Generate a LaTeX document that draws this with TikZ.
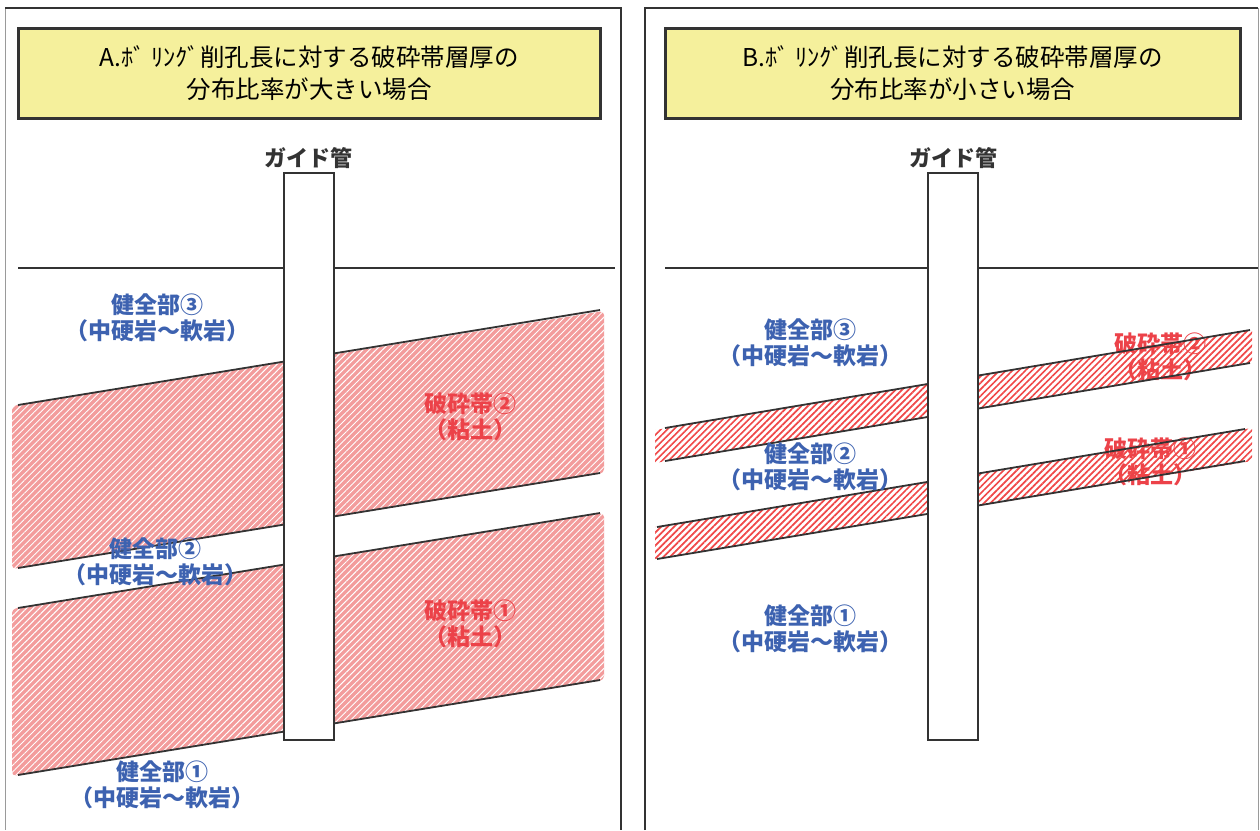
\documentclass[tikz,border=0pt]{standalone}
\usepackage{fontspec}
\setmainfont{Noto Sans CJK JP}
\usetikzlibrary{patterns.meta}

\definecolor{framegray}{HTML}{333333}
\definecolor{edgegray}{HTML}{9A9A9A}
\definecolor{titlefill}{HTML}{F5F09C}
\definecolor{rockblue}{HTML}{3D62B0}
\definecolor{clayred}{HTML}{EC4249}
\definecolor{claypink}{HTML}{F39C9C}
\definecolor{hatchred}{HTML}{F04848}

\tikzset{
  panel/.style={draw=framegray, line width=2.6pt},
  paneledge/.style={draw=edgegray, line width=1pt},
  titlebox/.style={draw=framegray, line width=3pt, fill=titlefill, align=center,
    font=\fontsize{24.5}{32}\selectfont, inner sep=0pt},
  pipe/.style={draw=framegray, line width=2pt, fill=white},
  ground/.style={draw=framegray, line width=2pt},
  seam/.style={draw=framegray, line width=1.8pt},
  pipelabel/.style={font=\bfseries\fontsize{22}{24}\selectfont, text=framegray},
  rocklabel/.style={align=center, text=rockblue, font=\bfseries\fontsize{23}{26}\selectfont},
  claylabel/.style={align=center, text=clayred, font=\bfseries\fontsize{23}{26}\selectfont},
  wideband/.style={fill=claypink, rounded corners=4pt},
  widehatch/.style={pattern={Lines[angle=45,distance=4.6pt,line width=0.95pt]}, pattern color=white},
  thinband/.style={pattern={Lines[angle=45,distance=4.6pt,line width=1.7pt]}, pattern color=hatchred}
}

\begin{document}
\begin{tikzpicture}[x=1pt,y=-1pt]
\useasboundingbox (0,0) rectangle (1260,830);

% ---------------- panel A: thick fractured zones ----------------
\draw[paneledge] (5,8) -- (5,830);
\draw[panel] (5,8) -- (621,8) -- (621,830);
\node[titlebox, minimum width=582pt, minimum height=90pt] (titleA) at (309,73)
  {A.ﾎﾞ\ ﾘﾝｸﾞ削孔長に対する破砕帯層厚の\\分布比率が大きい場合};

% fractured zone 2 (upper) and 1 (lower)
\path[wideband]  (12,406) -- (604,311) -- (604,473) -- (12,569) -- cycle;
\path[widehatch] (12,406) -- (604,311) -- (604,473) -- (12,569) -- cycle;
\path[wideband]  (12,609) -- (604,513) -- (604,680) -- (12,776) -- cycle;
\path[widehatch] (12,609) -- (604,513) -- (604,680) -- (12,776) -- cycle;

% zone boundaries
\draw[seam] (18,405) -- (600,310);
\draw[seam] (18,568) -- (600,473);
\draw[seam] (18,608) -- (600,513);
\draw[seam] (18,775) -- (600,680);

% ground surface and guide pipe
\draw[ground] (18,268) -- (615,268);
\draw[pipe] (284,173) rectangle (334,740);
\node[pipelabel] (pipeA) at (308,158) {ガイド管};

\node[rocklabel] (a3) at (157,318) {健全部③\\（中硬岩～軟岩）};
\node[rocklabel] (a2) at (155,562) {健全部②\\（中硬岩～軟岩）};
\node[rocklabel] (a1) at (162,785) {健全部①\\（中硬岩～軟岩）};
\node[claylabel] (fa2) at (470,417) {破砕帯②\\（粘土）};
\node[claylabel] (fa1) at (470,624) {破砕帯①\\（粘土）};

% ---------------- panel B: thin fractured zones ----------------
\draw[paneledge] (1258,8) -- (1258,830);
\draw[panel] (645,830) -- (645,8) -- (1258,8);
\node[titlebox, minimum width=575pt, minimum height=90pt] (titleB) at (952.5,73)
  {B.ﾎﾞ\ ﾘﾝｸﾞ削孔長に対する破砕帯層厚の\\分布比率が小さい場合};

% clay labels sit beneath the hatching
\node[claylabel] (fb2) at (1160,357) {破砕帯②\\（粘土）};
\node[claylabel] (fb1) at (1150,462) {破砕帯①\\（粘土）};

\path[thinband] (655,430) -- (1252,330) -- (1252,363) -- (655,463) -- cycle;
\path[thinband] (655,527) -- (1252,428) -- (1252,461) -- (655,559) -- cycle;

\draw[seam] (665,428) -- (1250,330);
\draw[seam] (665,461) -- (1250,363);
\draw[seam] (657,527) -- (1245,429);
\draw[seam] (657,559) -- (1245,461);

\draw[ground] (665,268) -- (1258,268);
\draw[pipe] (928,173) rectangle (978,740);
\node[pipelabel] (pipeB) at (953,158) {ガイド管};

\node[rocklabel] (b3) at (810,343) {健全部③\\（中硬岩～軟岩）};
\node[rocklabel] (b2) at (810,467) {健全部②\\（中硬岩～軟岩）};
\node[rocklabel] (b1) at (810,629) {健全部①\\（中硬岩～軟岩）};
\end{tikzpicture}
\end{document}
